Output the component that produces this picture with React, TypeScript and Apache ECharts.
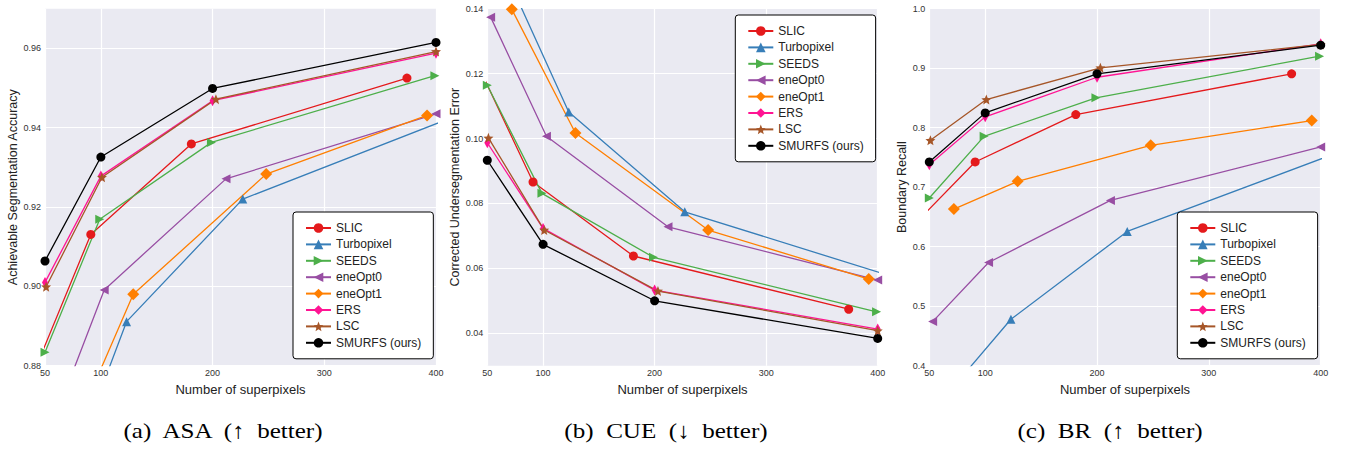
import React, { useEffect, useRef } from 'react';
import * as echarts from 'echarts';

// ---------- data ----------
const METHODS = ['SLIC', 'Turbopixel', 'SEEDS', 'eneOpt0', 'eneOpt1', 'ERS', 'LSC', 'SMURFS (ours)'];

// number of superpixels actually produced by each method
const X_SLIC = [45, 91, 181, 374];
const X_TURBOPIXEL = [60, 123, 227, 440];
const X_SEEDS = [50, 99, 199, 399];
const X_ENEOPT0 = [53, 103, 212, 400];
const X_ENEOPT1 = [72, 129, 248, 392];
const X_ERS = [50, 100, 200, 400];
const X_LSC = [51, 101, 203, 400];
const X_SMURFS = [50, 100, 200, 400];

// (a) Achievable Segmentation Accuracy
const ASA_SLIC = [0.8817, 0.9131, 0.9359, 0.9525];
const ASA_TURBOPIXEL = [0.844, 0.8911, 0.922, 0.9454];
const ASA_SEEDS = [0.8834, 0.9169, 0.9363, 0.9531];
const ASA_ENEOPT0 = [0.8624, 0.8991, 0.9271, 0.9435];
const ASA_ENEOPT1 = [0.861, 0.898, 0.9283, 0.9431];
const ASA_ERS = [0.901, 0.9278, 0.9468, 0.9588];
const ASA_LSC = [0.8999, 0.9275, 0.9472, 0.9592];
const ASA_SMURFS = [0.9064, 0.9326, 0.9499, 0.9615];

// (b) Corrected Undersegmentation Error
const CUE_SLIC = [0.1201, 0.0866, 0.0638, 0.0474];
const CUE_TURBOPIXEL = [0.1558, 0.1082, 0.0774, 0.0546];
const CUE_SEEDS = [0.1164, 0.0831, 0.0634, 0.0466];
const CUE_ENEOPT0 = [0.1374, 0.1007, 0.0728, 0.0564];
const CUE_ENEOPT1 = [0.1398, 0.1017, 0.0718, 0.0567];
const CUE_ERS = [0.0987, 0.0723, 0.0533, 0.0413];
const CUE_LSC = [0.1002, 0.0718, 0.053, 0.0408];
const CUE_SMURFS = [0.0933, 0.0674, 0.05, 0.0384];

// (c) Boundary Recall
const BR_SLIC = [0.6537, 0.7424, 0.822, 0.8906];
const BR_TURBOPIXEL = [0.339, 0.478, 0.6256, 0.7756];
const BR_SEEDS = [0.6818, 0.7855, 0.8502, 0.9202];
const BR_ENEOPT0 = [0.4741, 0.5734, 0.6778, 0.7677];
const BR_ENEOPT1 = [0.6633, 0.7098, 0.7704, 0.812];
const BR_ERS = [0.7379, 0.8182, 0.8848, 0.941];
const BR_LSC = [0.7788, 0.8473, 0.9007, 0.9399];
const BR_SMURFS = [0.7424, 0.8249, 0.8906, 0.9387];

const X_TICKS = [50, 100, 200, 300, 400];
const ASA_TICKS = [0.88, 0.9, 0.92, 0.94, 0.96];
const CUE_TICKS = [0.04, 0.06, 0.08, 0.1, 0.12, 0.14];
const BR_TICKS = [0.4, 0.5, 0.6, 0.7, 0.8, 0.9, 1.0];

const CAPTIONS = ['(a)  ASA  (\u2191  better)', '(b)  CUE  (\u2193  better)', '(c)  BR  (\u2191  better)'];
const Y_NAMES = ['Achievable Segmentation Accuracy', 'Corrected Undersegmentation Error', 'Boundary Recall'];
const X_NAME = 'Number of superpixels';

// ---------- styles ----------
const STAR =
  'path://M0,-10L2.6,-3.6L9.51,-3.09L4.2,1.4L5.88,8.09L0,4.4L-5.88,8.09L-4.2,1.4L-9.51,-3.09L-2.6,-3.6Z';

const STYLES = [
  { color: '#E41A1C', symbol: 'circle', size: 9, rotate: 0 },
  { color: '#377EB8', symbol: 'triangle', size: 9, rotate: 0 },
  { color: '#4DAF4A', symbol: 'triangle', size: 9, rotate: -90 },
  { color: '#984EA3', symbol: 'triangle', size: 9, rotate: 90 },
  { color: '#FF7F00', symbol: 'diamond', size: 12, rotate: 0 },
  { color: '#FF1493', symbol: 'diamond', size: [6, 11], rotate: 0 },
  { color: '#A65628', symbol: STAR, size: 10, rotate: 0 },
  { color: '#000000', symbol: 'circle', size: 9, rotate: 0 },
];

const XS = [X_SLIC, X_TURBOPIXEL, X_SEEDS, X_ENEOPT0, X_ENEOPT1, X_ERS, X_LSC, X_SMURFS];
const PANEL_VALUES = [
  [ASA_SLIC, ASA_TURBOPIXEL, ASA_SEEDS, ASA_ENEOPT0, ASA_ENEOPT1, ASA_ERS, ASA_LSC, ASA_SMURFS],
  [CUE_SLIC, CUE_TURBOPIXEL, CUE_SEEDS, CUE_ENEOPT0, CUE_ENEOPT1, CUE_ERS, CUE_LSC, CUE_SMURFS],
  [BR_SLIC, BR_TURBOPIXEL, BR_SEEDS, BR_ENEOPT0, BR_ENEOPT1, BR_ERS, BR_LSC, BR_SMURFS],
];
const PANEL_TICKS = [ASA_TICKS, CUE_TICKS, BR_TICKS];
const PANEL_RANGE = [
  [0.88, 0.97],
  [0.03, 0.14],
  [0.4, 1.0],
];
const PANEL_DIGITS = [2, 2, 1];

const GRID_LEFT = [45, 487.3, 929.3];
const GRID_WIDTH = [391, 390.4, 391.4];
const GRID_TOP = 8.7;
const GRID_HEIGHT = 357;
const NAME_GAP = [25, 25.5, 21];
const LEGEND_POS = [
  { left: 293, top: 212 },
  { left: 735.3, top: 15 },
  { left: 1177.3, top: 212 },
];
const CAPTION_X = [223, 666, 1110];

const FONT = 'Liberation Sans';

function buildOption() {
  const grid: any[] = [];
  const xAxis: any[] = [];
  const yAxis: any[] = [];
  const legend: any[] = [];
  const series: any[] = [];
  const graphic: any[] = [];

  for (let p = 0; p < 3; p++) {
    grid.push({
      left: GRID_LEFT[p],
      top: GRID_TOP,
      width: GRID_WIDTH[p],
      height: GRID_HEIGHT,
      show: true,
      backgroundColor: '#EAEAF2',
      borderWidth: 0,
    });
    xAxis.push({
      type: 'value',
      gridIndex: p,
      min: 50,
      max: 400,
      name: X_NAME,
      nameLocation: 'middle',
      nameGap: 10,
      nameTextStyle: { fontFamily: FONT, fontSize: 13, color: '#222' },
      axisLine: { show: false },
      axisTick: { show: false, customValues: X_TICKS },
      axisLabel: {
        customValues: X_TICKS,
        fontFamily: FONT,
        fontSize: 9,
        color: '#333',
        margin: 3,
      },
      splitLine: { show: true, lineStyle: { color: '#ffffff', width: 1.2 } },
    });
    const digits = PANEL_DIGITS[p];
    yAxis.push({
      type: 'value',
      gridIndex: p,
      min: PANEL_RANGE[p][0],
      max: PANEL_RANGE[p][1],
      name: Y_NAMES[p],
      nameLocation: 'middle',
      nameGap: NAME_GAP[p],
      nameTextStyle: { fontFamily: FONT, fontSize: 12.5, color: '#222' },
      axisLine: { show: false },
      axisTick: { show: false, customValues: PANEL_TICKS[p] },
      axisLabel: {
        customValues: PANEL_TICKS[p],
        fontFamily: FONT,
        fontSize: 9,
        color: '#333',
        margin: 4,
        formatter: (v: number) => v.toFixed(digits),
      },
      splitLine: { show: true, lineStyle: { color: '#ffffff', width: 1.2 } },
    });
    legend.push({
      orient: 'vertical',
      left: LEGEND_POS[p].left,
      top: LEGEND_POS[p].top,
      data: METHODS,
      itemWidth: 25,
      itemHeight: 12,
      itemGap: 4.4,
      padding: [10, 12, 10, 12],
      backgroundColor: '#ffffff',
      borderColor: '#000000',
      borderWidth: 1,
      borderRadius: 3,
      textStyle: { fontFamily: FONT, fontSize: 12, color: '#222', lineHeight: 12 },
      selectedMode: false,
    });
    for (let m = 0; m < METHODS.length; m++) {
      const st = STYLES[m];
      const xs = XS[m];
      const ys = PANEL_VALUES[p][m];
      series.push({
        type: 'line',
        name: METHODS[m],
        xAxisIndex: p,
        yAxisIndex: p,
        data: xs.map((x, i) => [x, ys[i]]),
        symbol: st.symbol,
        symbolSize: st.size,
        symbolRotate: st.rotate,
        showAllSymbol: true,
        clip: true,
        itemStyle: { color: st.color, borderWidth: 0 },
        lineStyle: { color: st.color, width: 1.3 },
        emphasis: { disabled: true },
      });
    }
    graphic.push({
      type: 'text',
      x: CAPTION_X[p],
      y: 431,
      scaleX: 1.14,
      style: {
        text: CAPTIONS[p],
        fontFamily: 'Liberation Serif',
        fontSize: 22,
        fill: '#000',
        align: 'center',
        verticalAlign: 'middle',
      },
    });
  }

  return {
    animation: false,
    backgroundColor: '#ffffff',
    grid,
    xAxis,
    yAxis,
    legend,
    series,
    graphic,
  };
}

export default function App() {
  const ref = useRef<HTMLDivElement>(null);
  useEffect(() => {
    const chart = echarts.init(ref.current as HTMLDivElement, null, { renderer: 'svg' });
    chart.setOption(buildOption() as any);
    return () => chart.dispose();
  }, []);
  return (
    <div
      ref={ref}
      style={{ position: 'fixed', left: 0, top: 0, width: 1345, height: 450, background: '#fff' }}
    />
  );
}
